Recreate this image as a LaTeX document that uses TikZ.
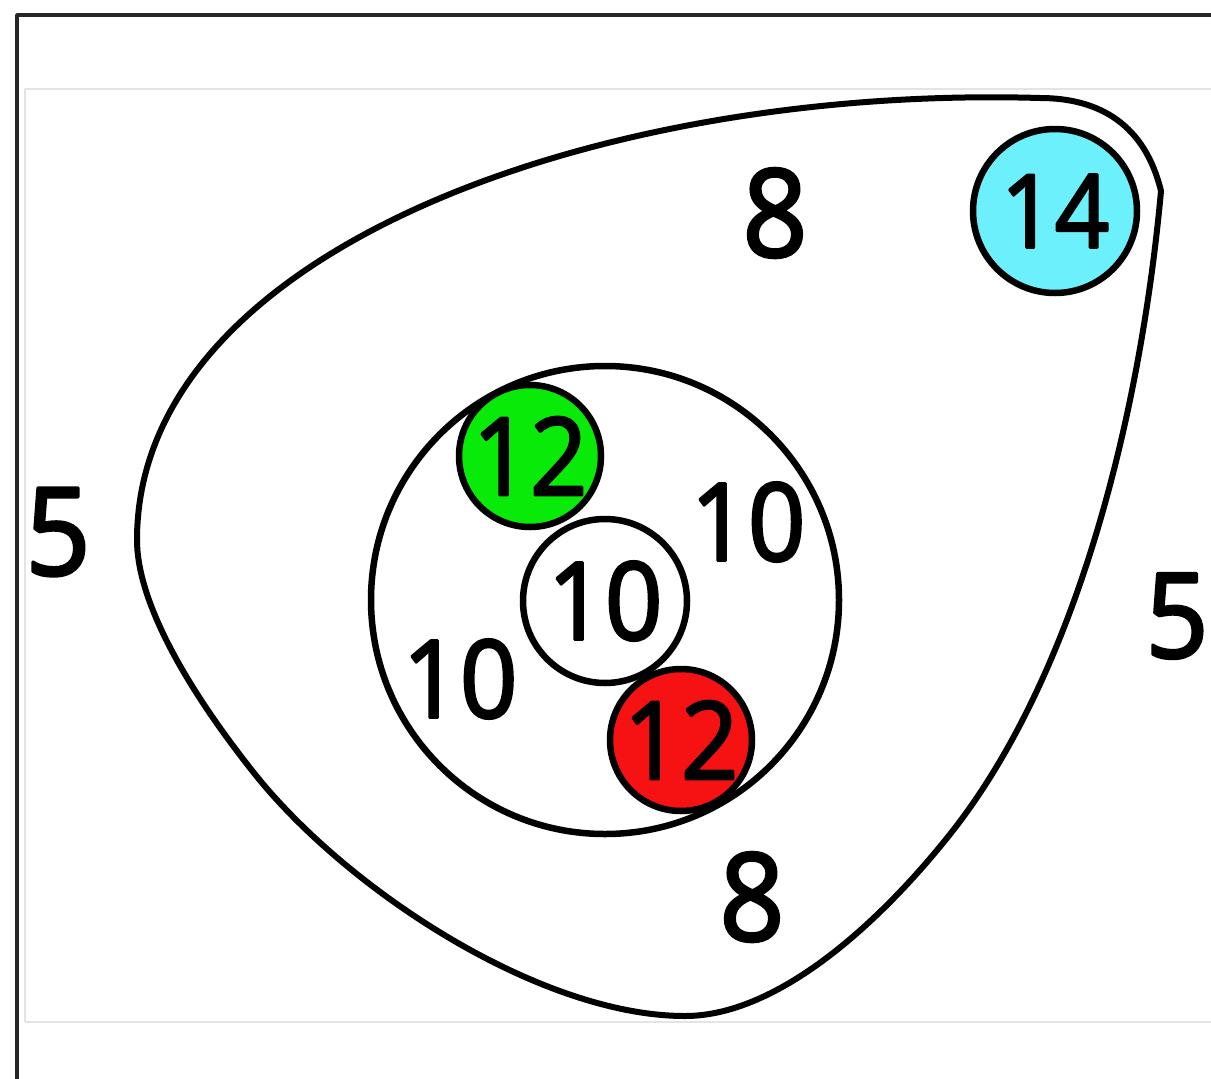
\documentclass[tikz,border=0pt]{standalone}
\usepackage{fontspec}
\setmainfont{Open Sans}[FakeStretch=0.93, RawFeature={embolden=2.5}]
\definecolor{discgreen}{RGB}{8,235,8}
\definecolor{discred}{RGB}{246,18,18}
\definecolor{disccyan}{RGB}{108,240,252}
\definecolor{paneline}{RGB}{228,228,228}
\tikzset{
  disc/.style={circle, draw=black, line width=6.5pt, inner sep=0pt, minimum size=#1,
    font=\fontsize{108}{108}\selectfont},
  num/.style={font=\fontsize{108}{108}\selectfont},
  bignum/.style={font=\fontsize{122}{122}\selectfont},
}
\begin{document}
\begin{tikzpicture}[x=1pt, y=-1pt, line join=round]
    \useasboundingbox (0,0) rectangle (1211,1079);

    % frame
    \draw[paneline, line width=1.5pt] (25,1022) -- (25,89) -- (1211,89);
    \draw[paneline, line width=1.5pt] (25,1022) -- (1211,1022);
    \draw[black!85, line width=3.5pt] (17,1079) -- (17,15) -- (1211,15);

    % outer region
    \draw[line width=6pt] (1040,98)
        .. controls (600,85) and (137,250) .. (137,540)
        .. controls (137,595) and (177,676) .. (254,773)
        .. controls (347,890) and (540,1016) .. (685,1016)
        .. controls (780,1016) and (883,919) .. (951,833)
        .. controls (1075,676) and (1140,420) .. (1161,191)
        .. controls (1145,125) and (1100,98) .. (1040,98) -- cycle;

    % inner region
    \draw[line width=6.5pt] (605,600) circle[radius=234];

    \node[disc=164pt, fill=white] (core) at (605,601) {10};
    \node[disc=142pt, fill=discgreen] (green) at (530,456) {12};
    \node[disc=142pt, fill=discred] (red) at (681,740) {12};
    \node[disc=164pt, fill=disccyan, font=\fontsize{102}{102}\selectfont] (cyan) at (1055,211) {14};

    \node[num] (ringA) at (748,522) {10};
    \node[num] (ringB) at (460,679) {10};
    \node[bignum] (outerA) at (775,213) {8};
    \node[bignum] (outerB) at (752,897) {8};
    \node[bignum] (leftfive) at (58,532) {5};
    \node[bignum, inner sep=0pt, font=\fontsize{118}{118}\selectfont] (rightfive) at (1177,616) {5};
\end{tikzpicture}
\end{document}
